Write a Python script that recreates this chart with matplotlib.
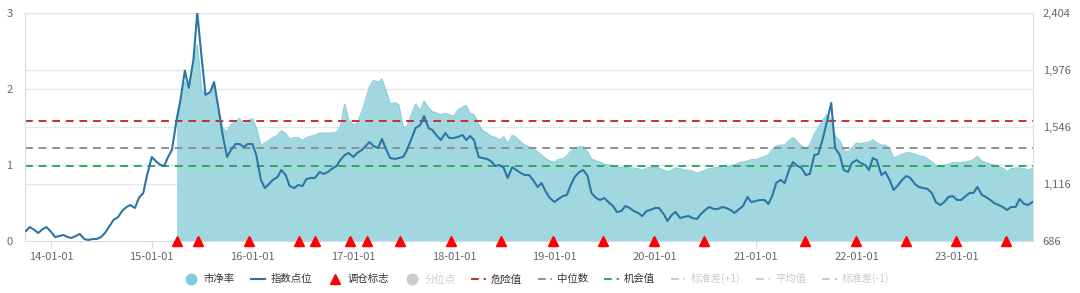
import numpy as np
import pandas as pd
import matplotlib
matplotlib.use('Agg')
from matplotlib import pyplot as plt
from matplotlib.lines import Line2D
from matplotlib.ticker import FuncFormatter
import matplotlib.dates as mdates
import matplotlib.transforms as mtransforms

plt.rcParams['font.family'] = ['Noto Sans CJK SC', 'DejaVu Sans']

# semi-monthly sampling, values
dates = pd.date_range('2013-10-01', '2023-10-01', freq='SMS')

index_values = [
    761, 791, 769, 746, 776, 791, 754, 716, 724, 731,
    716, 709, 724, 739, 701, 694, 701, 701, 716, 746,
    799, 844, 867, 912, 942, 957, 935, 1010, 1048, 1183,
    1319, 1289, 1259, 1251, 1319, 1372, 1598, 1748, 1970, 1839,
    2050, 2404, 2065, 1786, 1809, 1884, 1673, 1485, 1319, 1372,
    1417, 1417, 1394, 1417, 1417, 1334, 1146, 1085, 1115, 1146,
    1168, 1221, 1183, 1100, 1085, 1108, 1100, 1153, 1161, 1161,
    1206, 1191, 1206, 1229, 1251, 1296, 1334, 1349, 1319, 1349,
    1372, 1402, 1432, 1402, 1387, 1455, 1372, 1311, 1304, 1311,
    1319, 1372, 1462, 1537, 1560, 1628, 1537, 1522, 1477, 1447,
    1500, 1462, 1462, 1470, 1485, 1447, 1477, 1447, 1319, 1311,
    1304, 1289, 1251, 1259, 1236, 1161, 1244, 1221, 1198, 1183,
    1183, 1146, 1093, 1123, 1055, 1010, 980, 1002, 1025, 1033,
    1108, 1168, 1206, 1221, 1176, 1048, 1010, 995, 1010, 980,
    950, 905, 912, 950, 935, 912, 897, 874, 912, 920,
    935, 935, 889, 837, 882, 905, 859, 867, 874, 859,
    852, 889, 920, 942, 927, 927, 942, 935, 920, 897,
    927, 950, 1018, 980, 987, 995, 995, 965, 1025, 1123,
    1146, 1123, 1221, 1281, 1251, 1236, 1183, 1191, 1334, 1341,
    1462, 1583, 1726, 1387, 1334, 1221, 1206, 1274, 1296, 1274,
    1259, 1221, 1311, 1296, 1183, 1206, 1146, 1070, 1108, 1146,
    1176, 1161, 1115, 1093, 1085, 1078, 1048, 980, 957, 980,
    1018, 1025, 995, 995, 1025, 1048, 1048, 1093, 1033, 1018,
    995, 972, 957, 942, 920, 942, 942, 1002, 965, 957,
    980,
]

pb_dates = dates[36:]
pb_values = [
    1.62, 1.86, 2.09, 1.92, 2.34, 2.58, 1.99, 1.92, 1.96, 2.05,
    1.72, 1.49, 1.43, 1.53, 1.57, 1.61, 1.53, 1.58, 1.61, 1.49,
    1.25, 1.29, 1.32, 1.36, 1.39, 1.45, 1.41, 1.34, 1.36, 1.36,
    1.32, 1.36, 1.38, 1.39, 1.42, 1.42, 1.42, 1.42, 1.43, 1.50,
    1.80, 1.59, 1.53, 1.55, 1.70, 1.86, 2.03, 2.11, 2.09, 2.13,
    1.96, 1.80, 1.82, 1.79, 1.49, 1.51, 1.67, 1.80, 1.72, 1.84,
    1.75, 1.70, 1.68, 1.66, 1.68, 1.66, 1.64, 1.72, 1.76, 1.78,
    1.68, 1.66, 1.53, 1.45, 1.42, 1.38, 1.36, 1.33, 1.37, 1.28,
    1.39, 1.36, 1.30, 1.26, 1.24, 1.21, 1.17, 1.13, 1.08, 1.05,
    1.04, 1.07, 1.08, 1.12, 1.18, 1.21, 1.24, 1.24, 1.17, 1.08,
    1.05, 1.04, 1.01, 1.00, 0.99, 0.96, 0.97, 0.97, 0.96, 0.96,
    0.95, 0.93, 0.96, 0.97, 0.97, 0.96, 0.93, 0.91, 0.93, 0.96,
    0.95, 0.93, 0.93, 0.92, 0.89, 0.91, 0.93, 0.95, 0.96, 0.97,
    0.96, 0.96, 0.99, 1.00, 1.03, 1.04, 1.05, 1.07, 1.07, 1.09,
    1.11, 1.13, 1.20, 1.25, 1.26, 1.26, 1.32, 1.36, 1.30, 1.25,
    1.22, 1.26, 1.41, 1.49, 1.59, 1.66, 1.59, 1.38, 1.32, 1.20,
    1.17, 1.22, 1.29, 1.28, 1.29, 1.30, 1.33, 1.29, 1.26, 1.26,
    1.22, 1.09, 1.12, 1.14, 1.16, 1.16, 1.14, 1.12, 1.11, 1.08,
    1.04, 0.99, 0.97, 1.00, 1.01, 1.03, 1.03, 1.03, 1.04, 1.05,
    1.07, 1.11, 1.05, 1.03, 1.01, 1.00, 0.97, 0.96, 0.91, 0.95,
    0.96, 0.96, 0.95, 0.93, 0.96,
]

rebalance_dates = pd.to_datetime([
    '2015-04-02', '2015-06-18', '2015-12-18', '2016-06-17', '2016-08-15',
    '2016-12-20', '2017-02-20', '2017-06-19', '2017-12-20', '2018-06-20',
    '2018-12-26', '2019-06-26', '2019-12-27', '2020-06-26', '2021-06-28',
    '2021-12-30', '2022-06-28', '2022-12-28', '2023-06-27',
])

danger_pb = 1.58
median_pb = 1.22
chance_pb = 0.99

left_ticks = [0, 1, 2, 3]
right_ticks = [686, 1116, 1546, 1976, 2404]
x_ticks = pd.to_datetime([f'{y}-01-01' for y in range(2014, 2024)])

fig = plt.figure(figsize=(10.8, 2.93), dpi=100)
ax = fig.add_axes([25 / 1080, 52 / 293, 1008 / 1080, 228 / 293])
ax2 = ax.twinx()

ax.set_xlim(pd.Timestamp('2013-09-28'), pd.Timestamp('2023-10-03'))
ax.set_ylim(0, 3)
ax2.set_ylim(686, 2404)

# grid lines for both scales, kept below the area
trans_l = mtransforms.blended_transform_factory(ax.transAxes, ax.transData)
trans_r = mtransforms.blended_transform_factory(ax.transAxes, ax2.transData)
for t in left_ticks[1:]:
    ax.add_line(Line2D([0, 1], [t, t], transform=trans_l, color='#e6e6e6', lw=1, zorder=0))
for t in right_ticks[1:]:
    ax.add_line(Line2D([0, 1], [t, t], transform=trans_r, color='#e6e6e6', lw=1, zorder=0))

ax.fill_between(pb_dates, pb_values, 0, color='#a1d8e0', lw=0, zorder=1)
ax.plot(pb_dates, pb_values, color='#8fd0da', lw=1, zorder=1.5)

ax.axhline(danger_pb, color='#c62f2f', ls=(0, (4, 3)), lw=1.4, zorder=2)
ax.axhline(median_pb, color='#8c8f99', ls=(0, (4, 3)), lw=1.4, zorder=2)
ax.axhline(chance_pb, color='#2fa85e', ls=(0, (4, 3)), lw=1.4, zorder=2)

ax2.plot(dates, index_values, color='#2b76a6', lw=1.5, zorder=3)
ax2.plot(rebalance_dates, [686] * len(rebalance_dates), ls='none', marker='^',
         color='#ff0000', markersize=7, clip_on=False, zorder=4)

for a in (ax, ax2):
    for s in a.spines.values():
        s.set_visible(False)
ax.spines['left'].set_visible(True)
ax.spines['left'].set_color('#d5dcea')
ax.spines['bottom'].set_visible(True)
ax.spines['bottom'].set_color('#d5dcea')
ax2.spines['right'].set_visible(True)
ax2.spines['right'].set_color('#d5dcea')

ax.set_yticks(left_ticks)
ax.set_yticklabels([str(t) for t in left_ticks])
ax2.set_yticks(right_ticks)
ax2.yaxis.set_major_formatter(FuncFormatter(lambda v, p: f'{int(v):,}'))
ax.set_xticks(x_ticks)
ax.xaxis.set_major_formatter(mdates.DateFormatter('%y-%m-%d'))

ax.tick_params(axis='y', length=0, pad=9, labelsize=8, labelcolor='#666666')
ax2.tick_params(axis='y', length=0, pad=7, labelsize=8, labelcolor='#666666')
ax.tick_params(axis='x', length=5, color='#d5dcea', pad=3, labelsize=8, labelcolor='#666666')

dash_dot = (0, (4, 2.5, 1.2, 2.5))
handles = [
    Line2D([], [], ls='none', marker='o', markersize=7.5, color='#7fcfd9'),
    Line2D([], [], color='#2b76a6', lw=1.5),
    Line2D([], [], ls='none', marker='^', markersize=6.5, color='#ff0000'),
    Line2D([], [], ls='none', marker='o', markersize=7.5, color='#cccccc'),
    Line2D([], [], color='#c62f2f', lw=1.4, ls=dash_dot),
    Line2D([], [], color='#8c8f99', lw=1.4, ls=dash_dot),
    Line2D([], [], color='#2fa85e', lw=1.4, ls=dash_dot),
    Line2D([], [], color='#cccccc', lw=1.4, ls=dash_dot),
    Line2D([], [], color='#cccccc', lw=1.4, ls=dash_dot),
    Line2D([], [], color='#cccccc', lw=1.4, ls=dash_dot),
]
labels = ['市净率', '指数点位', '调仓标志', '分位点', '危险值', '中位数', '机会值',
          '标准差(+1)', '平均值', '标准差(-1)']
leg = fig.legend(handles, labels, loc='center', bbox_to_anchor=(0.497, 0.048),
                 ncol=10, frameon=False, fontsize=7.5, handlelength=1.4,
                 handletextpad=0.5, columnspacing=1.5)
for i, txt in enumerate(leg.get_texts()):
    txt.set_color('#cccccc' if i in (3, 7, 8, 9) else '#333333')

fig.savefig('out.png', dpi=100)
